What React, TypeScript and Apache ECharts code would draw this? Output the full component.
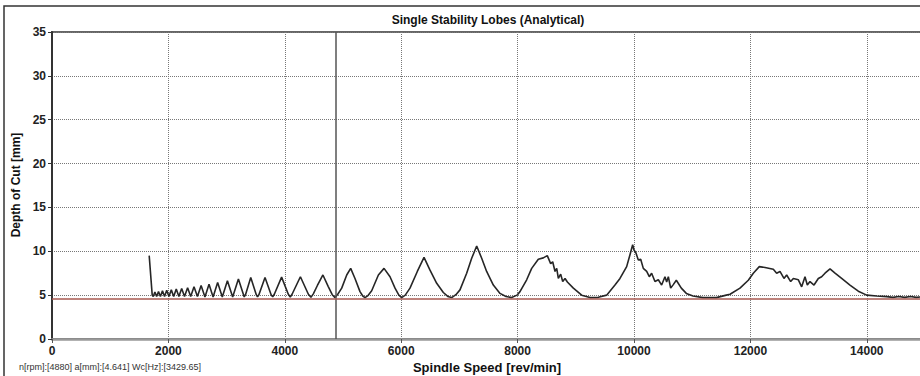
import React, { useEffect, useRef } from "react";
import * as echarts from "echarts";

const titleText = "Single Stability Lobes (Analytical)";
const xAxisTitle = "Spindle Speed [rev/min]";
const yAxisTitle = "Depth of Cut [mm]";

const cursorRpm = 4880;
const limitDepth = 4.641;
const chatterFreq = "3429.65";

const lowSpeedLobes: [number, number][] = [
  [1670, 9.5], [1722, 5.0], [1740, 4.85], [1768, 5.35], [1798, 4.85], [1830, 5.4],
  [1863, 4.85], [1898, 5.5], [1934, 4.85], [1971, 5.55], [2009, 4.85], [2050, 5.6],
  [2091, 4.85], [2135, 5.7], [2180, 4.85], [2228, 5.75], [2277, 4.85], [2330, 5.85],
  [2383, 4.85], [2440, 5.95], [2499, 4.85], [2562, 6.1], [2628, 4.8], [2698, 6.25],
  [2768, 4.8], [2846, 6.45], [2926, 4.8], [3014, 6.65], [3104, 4.8], [3203, 6.85],
  [3303, 4.8],
];

const midSpeedLobes: [number, number][] = [
  [3325, 5.05], [3415, 7.0], [3510, 5.05], [3531, 4.8],
  [3555, 5.05], [3660, 7.0], [3765, 5.05], [3792, 4.8],
  [3820, 5.1], [3945, 7.05], [4060, 5.1], [4094, 4.78],
  [4125, 5.1], [4268, 7.1], [4405, 5.1], [4449, 4.75],
  [4490, 5.15], [4560, 6.1], [4655, 7.3], [4745, 6.0], [4815, 5.05], [4863, 4.72],
  [4910, 5.1], [4978, 5.8], [5064, 7.3], [5132, 8.05], [5206, 6.9], [5292, 5.4], [5340, 4.9], [5378, 4.72],
  [5430, 4.95], [5493, 5.5], [5608, 7.3], [5705, 8.05], [5808, 7.1], [5894, 5.8], [5960, 5.0], [6008, 4.72],
  [6070, 5.0], [6151, 5.8], [6277, 7.7], [6392, 9.3], [6495, 7.85], [6610, 6.35], [6724, 5.3], [6800, 4.85], [6868, 4.72],
  [6940, 5.05], [7010, 5.6], [7125, 7.5], [7211, 9.2], [7297, 10.6], [7383, 9.2], [7468, 7.7], [7583, 6.15], [7698, 5.2], [7800, 4.85], [7898, 4.72],
];

const highSpeedLobes: [number, number][] = [
  [7990, 5.0], [8041, 5.4], [8156, 6.75], [8242, 8.05], [8356, 9.1], [8442, 9.25], [8510, 9.5],
  [8568, 8.6], [8603, 8.8], [8643, 7.7], [8672, 8.05], [8700, 6.9], [8740, 7.4], [8775, 6.55],
  [8815, 6.9], [8855, 6.5], [8958, 5.8], [9101, 5.0], [9244, 4.72], [9387, 4.75], [9530, 5.0],
  [9673, 6.15], [9759, 6.9], [9874, 8.25], [9931, 9.6], [9977, 10.75], [10000, 10.15], [10034, 9.8],
  [10074, 9.0], [10115, 9.1], [10160, 8.05], [10218, 7.7], [10263, 7.1], [10303, 7.5], [10360, 6.55],
  [10418, 6.75], [10475, 6.15], [10532, 7.1], [10561, 6.5], [10590, 7.1], [10630, 5.8], [10675, 6.2],
  [10727, 6.7], [10813, 5.8], [10899, 5.2], [11014, 4.9], [11186, 4.72], [11415, 4.72], [11586, 5.0],
  [11650, 5.1], [11821, 5.8], [11964, 6.7], [12050, 7.5], [12153, 8.25], [12251, 8.15], [12394, 7.95],
  [12451, 7.5], [12508, 7.7], [12577, 6.9], [12623, 7.3], [12692, 6.55], [12738, 6.9], [12824, 6.75],
  [12881, 5.95], [12938, 7.1], [12978, 6.15], [13024, 6.55], [13093, 6.15], [13167, 6.9], [13224, 7.1],
  [13282, 7.5], [13368, 8.0], [13454, 7.5], [13568, 6.9], [13711, 6.15], [13854, 5.45], [13998, 5.0],
  [14170, 4.9], [14342, 4.83], [14450, 4.75], [14550, 4.85], [14650, 4.75], [14750, 4.85], [14850, 4.75],
  [14950, 4.8],
];

const FONT = '"Liberation Sans", Arial, sans-serif';

export default function App() {
  const ref = useRef<HTMLDivElement>(null);
  useEffect(() => {
    if (!ref.current) return;
    const chart = echarts.init(ref.current, null, { renderer: "svg" });
    const data = [...lowSpeedLobes, ...midSpeedLobes, ...highSpeedLobes];
    chart.setOption({
      animation: false,
      backgroundColor: "#ffffff",
      grid: {
        left: 52,
        top: 32,
        width: 873,
        height: 307,
        outerBoundsMode: "none",
        containLabel: false,
        show: true,
        borderColor: "#666",
        borderWidth: 2,
        backgroundColor: "transparent",
      },
      xAxis: {
        type: "value",
        min: 0,
        max: 15000,
        interval: 2000,
        axisLine: { show: true, lineStyle: { color: "#999", width: 2.5 } },
        axisTick: { show: true, length: 4, lineStyle: { color: "#555" } },
        axisLabel: {
          margin: 6,
          fontFamily: FONT,
          fontWeight: "bold",
          fontSize: 12,
          color: "#222",
          formatter: (v: number) => (v % 2000 === 0 ? String(v) : ""),
        },
        splitLine: { show: true, lineStyle: { color: "#777", type: "dotted", width: 1 } },
      },
      yAxis: {
        type: "value",
        min: 0,
        max: 35,
        interval: 5,
        axisLine: { show: true, lineStyle: { color: "#333", width: 2 } },
        axisTick: { show: true, length: 4, lineStyle: { color: "#333" } },
        axisLabel: {
          margin: 6,
          fontFamily: FONT,
          fontWeight: "bold",
          fontSize: 12,
          color: "#222",
        },
        splitLine: { show: true, lineStyle: { color: "#777", type: "dotted", width: 1 } },
      },
      series: [
        {
          type: "line",
          data,
          showSymbol: false,
          symbol: "none",
          lineStyle: { color: "#262626", width: 1.6 },
          z: 4,
          markLine: {
            silent: true,
            symbol: "none",
            label: { show: false },
            data: [
              { xAxis: cursorRpm, lineStyle: { color: "#555", width: 1.5, type: "solid" } },
              { yAxis: limitDepth, lineStyle: { color: "#a85a52", width: 1.5, type: "solid" } },
            ],
          },
        },
      ],
      graphic: [
        {
          type: "rect",
          shape: { x: 4, y: 6, width: 960, height: 420 },
          style: { fill: "none", stroke: "#333", lineWidth: 1.5 },
          silent: true,
        },
        {
          type: "text",
          x: 488,
          y: 20,
          style: {
            text: titleText,
            align: "center",
            verticalAlign: "middle",
            fontFamily: FONT,
            fontWeight: "bold",
            fontSize: 12,
            fill: "#111",
          },
        },
        {
          type: "text",
          x: 487,
          y: 367,
          style: {
            text: xAxisTitle,
            align: "center",
            verticalAlign: "middle",
            fontFamily: FONT,
            fontWeight: "bold",
            fontSize: 13,
            fill: "#111",
          },
        },
        {
          type: "text",
          x: 16,
          y: 185,
          rotation: Math.PI / 2,
          style: {
            text: yAxisTitle,
            align: "center",
            verticalAlign: "middle",
            fontFamily: FONT,
            fontWeight: "bold",
            fontSize: 12,
            fill: "#111",
          },
        },
        {
          type: "text",
          x: 19,
          y: 367,
          style: {
            text: `n[rpm]:[${cursorRpm}] a[mm]:[${limitDepth}] Wc[Hz]:[${chatterFreq}]`,
            align: "left",
            verticalAlign: "middle",
            fontFamily: FONT,
            fontSize: 9,
            fill: "#333",
          },
        },
      ],
    });
    return () => chart.dispose();
  }, []);
  return (
    <div
      ref={ref}
      style={{ position: "absolute", left: 0, top: 0, width: 920, height: 376 }}
    />
  );
}
